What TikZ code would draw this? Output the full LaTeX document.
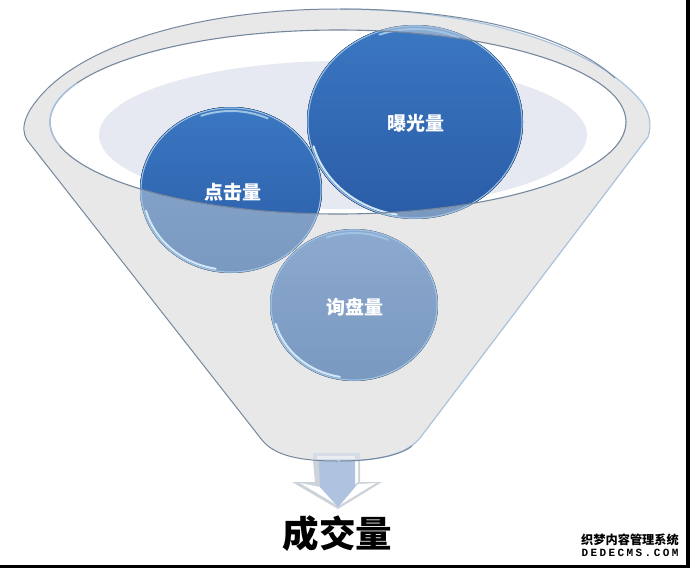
\documentclass[tikz,border=0pt]{standalone}
\usepackage{fontspec}
\setmainfont{Noto Sans CJK SC}
\newfontfamily\wmlatin[LetterSpace=22]{Liberation Mono}
\definecolor{funnelgray}{HTML}{E8E8E9}
\definecolor{pondblue}{HTML}{E6E9F2}
\definecolor{rimline}{HTML}{75889E}
\definecolor{rimpale}{HTML}{A9C3DC}
\definecolor{deeptop}{HTML}{3B77C2}
\definecolor{deepbot}{HTML}{2A5CA6}
\definecolor{palebot}{HTML}{7A99C0}
\definecolor{paletop}{HTML}{8CA9CF}
\definecolor{ballrim}{HTML}{9FC3E2}
\definecolor{ballglow}{HTML}{D3E8F6}
\definecolor{arrowblue}{HTML}{AFC2E0}
\definecolor{arrowedge}{HTML}{CDD3DA}
\def\bowl{(338,122) ellipse [x radius=288, y radius=92]}
\def\funnelleft{(338,9) .. controls (215,9) and (100,38) .. (48,88)
	.. controls (24,112) and (20,128) .. (27,140) -- (262,440)
	.. controls (275,456) and (300,461) .. (338,461)}
\def\funnelright{(338,9) .. controls (470,9) and (590,42) .. (640,100)
	.. controls (650,112) and (652,125) .. (648,137) -- (420,438)
	.. controls (405,456) and (375,461) .. (338,461)}

\begin{document}
\begin{tikzpicture}[x=1pt, y=-1pt,
		halo/.style={draw=ballrim, line width=1pt},
		glow/.style={draw=ballglow, line width=2pt, line cap=round},
		deepball/.style={top color=deeptop, bottom color=deepbot},
		paleball/.style={top color=paletop, bottom color=palebot},
		balllabel/.style={text=white, font=\bfseries\fontsize{19}{19}\selectfont, inner sep=0pt}]
		\useasboundingbox (0,0) rectangle (690,568);
		\fill[white] (0,0) rectangle (690,568);
		
		% ---------- Border of the screenshot ----------
		\fill[black] (686,0) rectangle (690,568);
		\fill[black] (0,564.5) rectangle (690,568);
		
		% ---------- Funnel body ----------
		\fill[funnelgray] (27,140) .. controls (20,128) and (24,112) .. (48,88)
		.. controls (100,38) and (215,9) .. (338,9)
		.. controls (470,9) and (590,42) .. (640,100)
		.. controls (650,112) and (652,125) .. (648,137) -- (420,438)
		.. controls (405,456) and (375,461) .. (338,461)
		.. controls (300,461) and (275,456) .. (262,440) -- cycle;
		
		% ---------- Arrow under the funnel ----------
		\fill[arrowedge] (313,461) -- (360,461) -- (360,482) -- (382,482) -- (338,509) -- (292,482) -- (315,482) -- cycle;
		\fill[white] (300,483) -- (320,487) -- (337,505) -- cycle;
		\fill[white] (358,484) -- (376,483) -- (340,505) -- cycle;
		\fill[white] (355,461) -- (358,461) -- (358,482) -- (355,484) -- cycle;
		\fill[arrowblue] (319,461) -- (355,461) -- (355,487) -- (338,507) -- (320,487) -- cycle;
		\fill[arrowblue, opacity=.3] (313,453) rectangle (360,461);
		\fill[white, opacity=.5] (317,456) rectangle (355,459);
		
		% ---------- Funnel edge ----------
		\draw[rimpale, line width=1.2pt] \funnelright;
		\draw[rimline, line width=1pt] (340,9) .. controls (470,9) and (570,36) .. (615,78);
		\draw[rimline, line width=1pt] \funnelleft;
		\draw[rimline, line width=1pt] (340,461) .. controls (370,461) and (400,456) .. (412,446);
		
		% ---------- Inside of the bowl ----------
		\fill[white] \bowl;
		\begin{scope}
			\clip \bowl;
			\fill[pondblue] (343,135) ellipse [x radius=244, y radius=74];
		\end{scope}
		
		% ---------- Balls ----------
		\foreach \bx/\by/\rx/\ry in {415/122/108/97, 231/190/91/83, 354/305/84/76}{
			\fill[paleball] (\bx,\by) ellipse [x radius=\rx, y radius=\ry];
		}
		\begin{scope}
			\clip \bowl;
			\foreach \bx/\by/\rx/\ry in {415/122/108/97, 231/190/91/83}{
				\fill[deepball] (\bx,\by) ellipse [x radius=\rx, y radius=\ry];
			}
		\end{scope}
		
		% ---------- Ball rims, bright at the lower left and at the top ----------
		\foreach \bx/\by/\rx/\ry in {415/122/107/96, 231/190/90/82, 354/305/83/75}{
			\draw[halo] (\bx,\by) ellipse [x radius=\rx, y radius=\ry];
			\draw[glow] (\bx,\by) ++(100:\rx-2 and \ry-2) arc[start angle=100, end angle=165, x radius=\rx-2, y radius=\ry-2];
			\draw[glow, ballrim] (\bx,\by) ++(250:\rx-3 and \ry-3) arc[start angle=250, end angle=295, x radius=\rx-3, y radius=\ry-3];
		}
		
		% ---------- Bowl edge ----------
		\draw[rimline, line width=1.1pt] \bowl;
		\draw[rimpale, line width=1.4pt] (338,122) ++(165:288 and 92) arc[start angle=165, end angle=205, x radius=288, y radius=92];
		
		% ---------- Labels ----------
		\node[balllabel] (baoguang) at (416,123) {曝光量};
		\node[balllabel] (dianji) at (233,192) {点击量};
		\node[balllabel] (xunpan) at (355,307) {询盘量};
		\node[inner sep=0pt, font=\bfseries\fontsize{36.5}{36.5}\selectfont] (chengjiao) at (337.5,534) {成交量};
		
		% ---------- Stamp in the corner ----------
		\node[inner sep=0pt, font=\bfseries\fontsize{12.2}{12.2}\selectfont] (stamp) at (630,540) {织梦内容管理系统};
		\node[inner sep=0pt, font=\wmlatin\bfseries\fontsize{11}{11}\selectfont] (stampurl) at (630,553) {DEDECMS.COM};
		
	\end{tikzpicture}
\end{document}
